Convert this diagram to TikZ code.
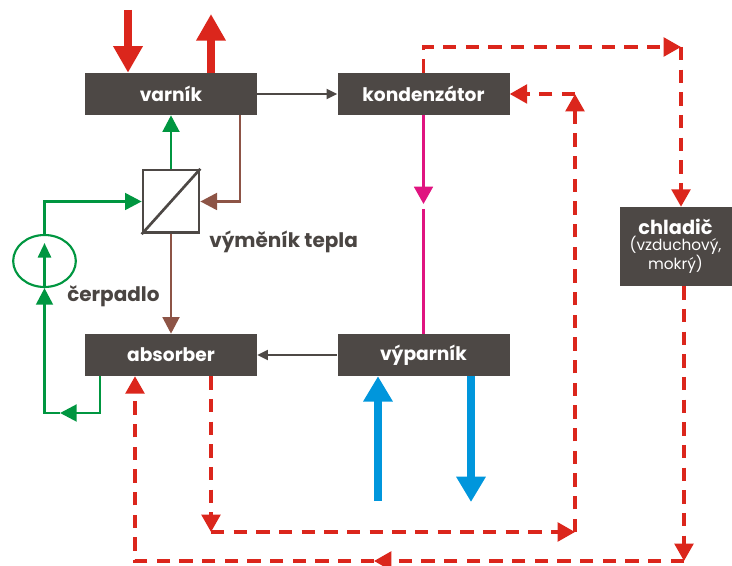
\documentclass[tikz,border=0pt]{standalone}
\usepackage{fontspec}
\setmainfont{Poppins}
\usetikzlibrary{arrows.meta,shapes.geometric}
\definecolor{boxgray}{RGB}{77,72,69}
\definecolor{pred}{RGB}{219,38,28}
\definecolor{pgreen}{RGB}{0,150,64}
\definecolor{pbrown}{RGB}{141,84,70}
\definecolor{pmag}{RGB}{224,20,128}
\definecolor{pblue}{RGB}{0,150,220}
\definecolor{ptext}{RGB}{74,69,66}
\tikzset{
  boxnode/.style={fill=boxgray, text=white, font=\bfseries\fontsize{14}{16}\selectfont, minimum width=129pt, minimum height=31.5pt, inner sep=0pt},
  grn/.style={draw=pgreen, line width=2.2pt, -{Triangle[width=12.5pt,length=12.5pt]}},
  brn/.style={draw=pbrown, line width=2.2pt, -{Triangle[width=12.5pt,length=12.5pt]}},
  gry/.style={draw=boxgray, line width=1.5pt, -{Triangle[width=7.5pt,length=8pt]}},
  mag/.style={draw=pmag, line width=2.2pt},
  rdash/.style={draw=pred, line width=2.5pt, dash pattern=on 10pt off 7pt},
  rtip/.style={-{Triangle[width=14pt,length=13pt]}},
  thickred/.style={draw=pred, line width=6pt, -{Triangle[width=21pt,length=20pt]}},
  thickblue/.style={draw=pblue, line width=6pt, -{Triangle[width=21pt,length=19pt]}},
  lbl/.style={text=ptext, font=\bfseries\fontsize{15}{17}\selectfont, inner sep=0pt, anchor=west}
}
\begin{document}
\begin{tikzpicture}[x=0.75pt,y=-0.75pt]
\useasboundingbox (0,0) rectangle (732,566);
% boxes
\node[boxnode] (var) at (171,94) {varník};
\node[boxnode] (kond) at (423.5,94) {kondenzátor};
\node[boxnode] (abs) at (171,355) {absorber};
\node[boxnode] (vyp) at (423.5,355) {výparník};
\node[fill=boxgray, text=white, minimum width=84pt, minimum height=59.25pt, inner sep=0pt, align=center, font=\fontsize{11.5}{14}\selectfont] (chl) at (675.5,246.5) {\bfseries\fontsize{14.5}{16}\selectfont chladič\\[-2pt](vzduchový,\\mokrý)};
% heat exchanger
\node[draw=boxgray, line width=2pt, minimum width=42pt, minimum height=47pt, inner sep=0pt] (hx) at (171,201.5) {};
\draw[boxgray, line width=2pt] (hx.south west) -- (hx.north east);
% pump
\node[draw=pgreen, line width=1.6pt, ellipse, minimum width=47pt, minimum height=39pt, inner sep=0pt] (pump) at (44.5,261) {};
\draw[draw=pgreen, line width=1.6pt, -{Triangle[width=10pt,length=11pt]}] (pump.south) -- ++(0,-45);
% labels
\node[lbl] (lvt) at (209,242) {výměník tepla};
\node[lbl] (lcp) at (67,296) {čerpadlo};
% grey arrows
\draw[gry] (var.east) -- (kond.west);
\draw[gry] (vyp.west) -- (abs.east);
% green circuit
\draw[grn] (hx.north) -- (var.south);
\draw[grn] (pump.north) |- (hx.west);
\coordinate (g1) at (100,413);
\coordinate (g2) at (60,413);
\draw[grn] (abs.south -| g1) -- (g1) -- (g2);
\draw[grn] (g2) -| (pump.south);
% brown
\coordinate (b1) at (240,200);
\draw[brn] (var.south -| b1) |- (hx.east);
\draw[brn] (hx.south) -- (abs.north);
% magenta
\coordinate (m1) at (423.5,204);
\coordinate (m2) at (423.5,209);
\draw[mag, -{Triangle[width=14pt,length=13pt]}] (kond.south) -- (m1);
\draw[mag] (m2) -- (vyp.north);
% thick red
\coordinate (r1) at (128,10);
\coordinate (r2) at (211,14);
\draw[thickred] (r1) -- (var.north -| r1);
\draw[thickred] (var.north -| r2) -- (r2);
% thick blue
\coordinate (u1) at (378,501);
\coordinate (u2) at (471,502);
\draw[thickblue] (u1) -- (vyp.south -| u1);
\draw[thickblue] (vyp.south -| u2) -- (u2);
% red dashed: kondenzator -> chladic
\coordinate (c1) at (681,47);
\draw[rdash, rtip] (kond.north) |- (c1);
\draw[rdash, rtip] (c1) -- (chl.north -| c1);
% chladic -> absorber
\coordinate (c2) at (684,561);
\coordinate (c3) at (374,561);
\coordinate (c4) at (135,561);
\draw[rdash, rtip] (chl.south -| c2) -- (c2);
\draw[rdash, rtip] (c2) -- (c3);
\draw[rdash, rtip] (c3) -- (c4) -- (abs.south -| c4);
% absorber -> kondenzator
\coordinate (d1) at (211,532);
\coordinate (d2) at (575,532);
\coordinate (d3) at (575,94);
\draw[rdash, rtip] (abs.south -| d1) -- (d1);
\draw[rdash, rtip] (d1) -- (d2);
\draw[rdash, rtip] (d2) -- (d3);
\draw[rdash, rtip] (d3) -- (kond.east);
\end{tikzpicture}
\end{document}
